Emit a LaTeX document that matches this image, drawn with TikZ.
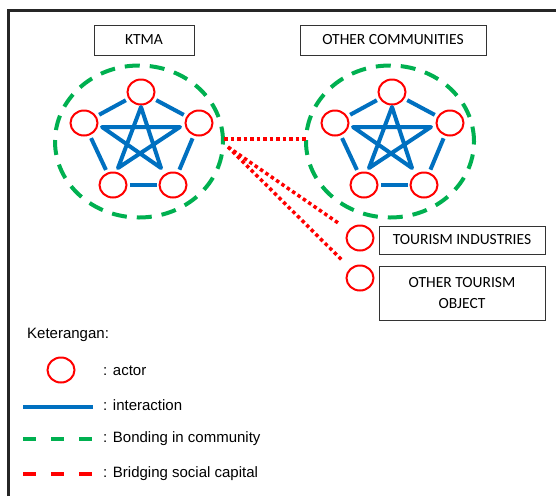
\documentclass[tikz,border=0pt]{standalone}
\usepackage{fontspec}
\setmainfont{Liberation Sans}
\newfontfamily\boxfont{Carlito}
\usetikzlibrary{shapes.geometric}
\definecolor{actred}{RGB}{255,0,0}
\definecolor{linkblue}{RGB}{0,112,192}
\definecolor{bondgreen}{RGB}{0,176,80}
\tikzset{
  actor/.style = {ellipse, draw=actred, line width=2pt, minimum width=27pt, minimum height=25pt, inner sep=0pt},
  label box/.style = {draw=black!80, line width=1pt, font=\boxfont\fontsize{15.5}{18}\selectfont, align=center, inner sep=0pt},
  interaction/.style = {draw=linkblue, line width=4pt},
  bonding/.style = {draw=bondgreen, line width=4pt, dash pattern=on 15pt off 10pt},
  bridging/.style = {draw=actred, line width=3.5pt, dash pattern=on 3.5pt off 3pt},
  legend text/.style = {anchor=west, inner sep=0pt, font=\fontsize{15}{18}\selectfont}
}
\begin{document}
\begin{tikzpicture}[x=1pt, y=-1pt]
		\useasboundingbox (0,0) rectangle (556,496);
		\draw[line width=3pt, black!85] (8,496) -- (8,10) -- (556,10);
		% titles
		\node[label box, minimum width=100pt, minimum height=30pt] at (144,40) (ktma) {KTMA};
		\node[label box, minimum width=186pt, minimum height=30pt] at (393,40) (other) {OTHER COMMUNITIES};
		% the two communities
		\foreach \g/\dx in {k/0, o/251} {
			\draw[bonding] (139+\dx,141.5) ellipse [x radius=84pt, y radius=76pt];
			\node[actor] at (141+\dx,92)  (\g1) {};
			\node[actor] at (199+\dx,123) (\g2) {};
			\node[actor] at (173+\dx,185) (\g3) {};
			\node[actor] at (113+\dx,185) (\g4) {};
			\node[actor] at (84+\dx,123)  (\g5) {};
			\draw[interaction, shorten <=3pt, shorten >=3pt] (\g1) -- (\g2);
			\draw[interaction, shorten <=3pt, shorten >=3pt] (\g2) -- (\g3);
			\draw[interaction, shorten <=2pt, shorten >=2pt] (\g3) -- (\g4);
			\draw[interaction, shorten <=3pt, shorten >=3pt] (\g4) -- (\g5);
			\draw[interaction, shorten <=3pt, shorten >=3pt] (\g5) -- (\g1);
			\coordinate (\g s1) at (141+\dx,107);
			\coordinate (\g s2) at (180+\dx,127);
			\coordinate (\g s3) at (161+\dx,168);
			\coordinate (\g s4) at (118+\dx,168);
			\coordinate (\g s5) at (102+\dx,127);
			\draw[interaction, line join=round] (\g s1) -- (\g s3) -- (\g s5) -- (\g s2) -- (\g s4) -- cycle;
		}
		% outside actors
		\node[actor] at (360,238) (t1) {};
		\node[actor] at (360,278) (t2) {};
		\node[label box, minimum width=166pt, minimum height=28pt] at (462,240) (ind) {TOURISM INDUSTRIES};
		\node[label box, minimum width=166pt, minimum height=54pt] at (462,293) (obj) {OTHER TOURISM\\[3pt]OBJECT};
		% bridging
		\coordinate (b1) at (224,139);
		\coordinate (b2) at (307,139);
		\coordinate (b3) at (228,147);
		\draw[bridging] (b1) -- (b2);
		\draw[bridging, shorten >=10pt] (b3) -- (t1);
		\draw[bridging, shorten >=10pt] (b3) -- (t2);
		% legend
		\node[legend text] at (27,335) (ket) {Keterangan:};
		\node[actor] at (61,370) (la) {};
		\node[legend text] at (103,371) (lat) {: actor};
		\coordinate (l1a) at (23,407);
		\coordinate (l1b) at (93,407);
		\draw[interaction] (l1a) -- (l1b);
		\node[legend text] at (103,405) (lit) {: interaction};
		\coordinate (l2a) at (23,439);
		\coordinate (l2b) at (93,439);
		\draw[bonding, dash pattern=on 13pt off 15pt] (l2a) -- (l2b);
		\node[legend text] at (103,439) (lbt) {: Bonding in community};
		\coordinate (l3a) at (23,474);
		\coordinate (l3b) at (93,474);
		\draw[draw=actred, line width=4pt, dash pattern=on 13pt off 15pt] (l3a) -- (l3b);
		\node[legend text] at (103,474) (lrt) {: Bridging social capital};
\end{tikzpicture}
\end{document}
